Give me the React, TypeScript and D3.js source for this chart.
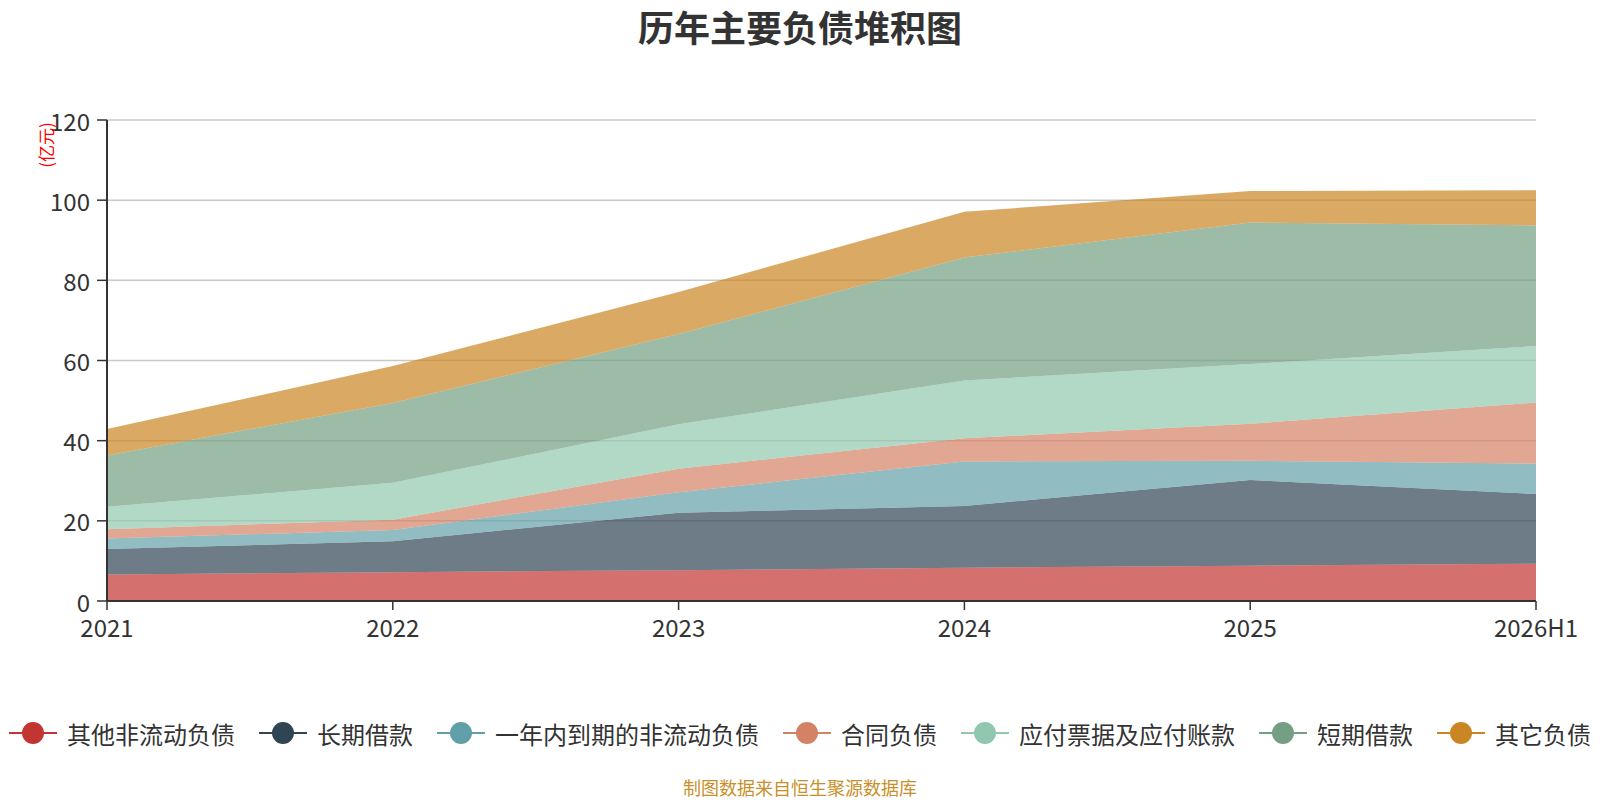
import React, { useEffect } from "react";
import * as d3 from "d3";

const categories = ["2021", "2022", "2023", "2024", "2025", "2026H1"];
const seriesNames = ["其他非流动负债", "长期借款", "一年内到期的非流动负债", "合同负债", "应付票据及应付账款", "短期借款", "其它负债"];
const colors = ["#c23531", "#2f4554", "#61a0a8", "#d48265", "#91c7ae", "#749f83", "#ca8622"];
const otherNonCurrent = [6.6, 7.2, 7.7, 8.3, 8.8, 9.3];
const longTermLoans = [6.4, 7.7, 14.3, 15.4, 21.4, 17.4];
const currentPortion = [2.6, 2.8, 5.1, 11.1, 4.8, 7.6];
const contractLiab = [2.3, 2.6, 5.9, 5.8, 9.2, 15.2];
const payables = [5.6, 9.2, 11.1, 14.4, 14.9, 14.1];
const shortTermLoans = [12.8, 19.9, 22.5, 30.7, 35.3, 30.1];
const otherLiab = [6.6, 9.2, 10.5, 11.4, 7.9, 8.8];
const yTicks = [0, 20, 40, 60, 80, 100, 120];

const seriesValues = [otherNonCurrent, longTermLoans, currentPortion, contractLiab, payables, shortTermLoans, otherLiab];

const W = 1600, H = 800;
const left = 107, right = 1536, top = 120, bottom = 601;
const FONT = "'Noto Sans CJK SC', 'Noto Sans', sans-serif";

export default function App() {
  useEffect(() => {
    document.body.style.margin = "0";
  }, []);

  const rows = categories.map((c, i) => {
    const r: any = { cat: c };
    seriesNames.forEach((n, j) => (r[n] = seriesValues[j][i]));
    return r;
  });
  const stacked = d3.stack<any>().keys(seriesNames)(rows);
  const x = d3.scalePoint<string>().domain(categories).range([left, right]);
  const y = d3.scaleLinear().domain([0, 120]).range([bottom, top]);
  const area = d3
    .area<any>()
    .x((d) => x(d.data.cat) as number)
    .y0((d) => y(d[0]))
    .y1((d) => y(d[1]));

  // legend layout
  const fs = 24, iconW = 48, iconGap = 10, itemGap = 24;
  const widths = seriesNames.map((n) => iconW + iconGap + n.length * fs);
  const total = d3.sum(widths) + itemGap * (seriesNames.length - 1);
  let cursor = W / 2 - total / 2;
  const legendItems = seriesNames.map((n, i) => {
    const xs = cursor;
    cursor += widths[i] + itemGap;
    return { n, xs, c: colors[i] };
  });
  const legendY = 733;

  return (
    <svg width={W} height={H} style={{ display: "block", background: "#fff" }} fontFamily={FONT}>
      <text x={W / 2} y={26} textAnchor="middle" dominantBaseline="central" fontSize={36} fontWeight="bold" fill="#333">
        历年主要负债堆积图
      </text>
      {yTicks.map((t) => (
        <g key={t}>
          {t > 0 && <line x1={left} x2={right} y1={y(t)} y2={y(t)} stroke="#c8c8c8" strokeWidth={1.5} />}
          <line x1={left - 10} x2={left} y1={y(t)} y2={y(t)} stroke="#333" strokeWidth={1.5} />
          <text x={left - 17} y={y(t)} textAnchor="end" dominantBaseline="central" fontSize={24} fill="#333">
            {t}
          </text>
        </g>
      ))}
      {stacked.map((s, i) => (
        <path key={s.key} d={area(s as any) || ""} fill={colors[i]} fillOpacity={0.7} stroke="none" />
      ))}
      <line x1={left} x2={left} y1={top} y2={bottom} stroke="#333" strokeWidth={2} />
      <line x1={left} x2={right} y1={bottom} y2={bottom} stroke="#333" strokeWidth={2} />
      {categories.map((c) => (
        <g key={c}>
          <line x1={x(c)} x2={x(c)} y1={bottom} y2={bottom + 9} stroke="#333" strokeWidth={1.5} />
          <text x={x(c)} y={bottom + 25} textAnchor="middle" dominantBaseline="central" fontSize={24} fill="#333">
            {c}
          </text>
        </g>
      ))}
      <text
        transform={`translate(45,145) rotate(-90)`}
        textAnchor="middle"
        dominantBaseline="central"
        fontSize={17}
        fill="#ff0000"
      >
        (亿元)
      </text>
      {legendItems.map((it) => (
        <g key={it.n}>
          <line x1={it.xs} x2={it.xs + iconW} y1={legendY} y2={legendY} stroke={it.c} strokeWidth={2} />
          <circle cx={it.xs + iconW / 2} cy={legendY} r={11} fill={it.c} />
          <text x={it.xs + iconW + iconGap} y={legendY} dominantBaseline="central" fontSize={fs} fill="#333">
            {it.n}
          </text>
        </g>
      ))}
      <text x={W / 2} y={787} textAnchor="middle" dominantBaseline="central" fontSize={18} fill="#c8902a">
        制图数据来自恒生聚源数据库
      </text>
    </svg>
  );
}
